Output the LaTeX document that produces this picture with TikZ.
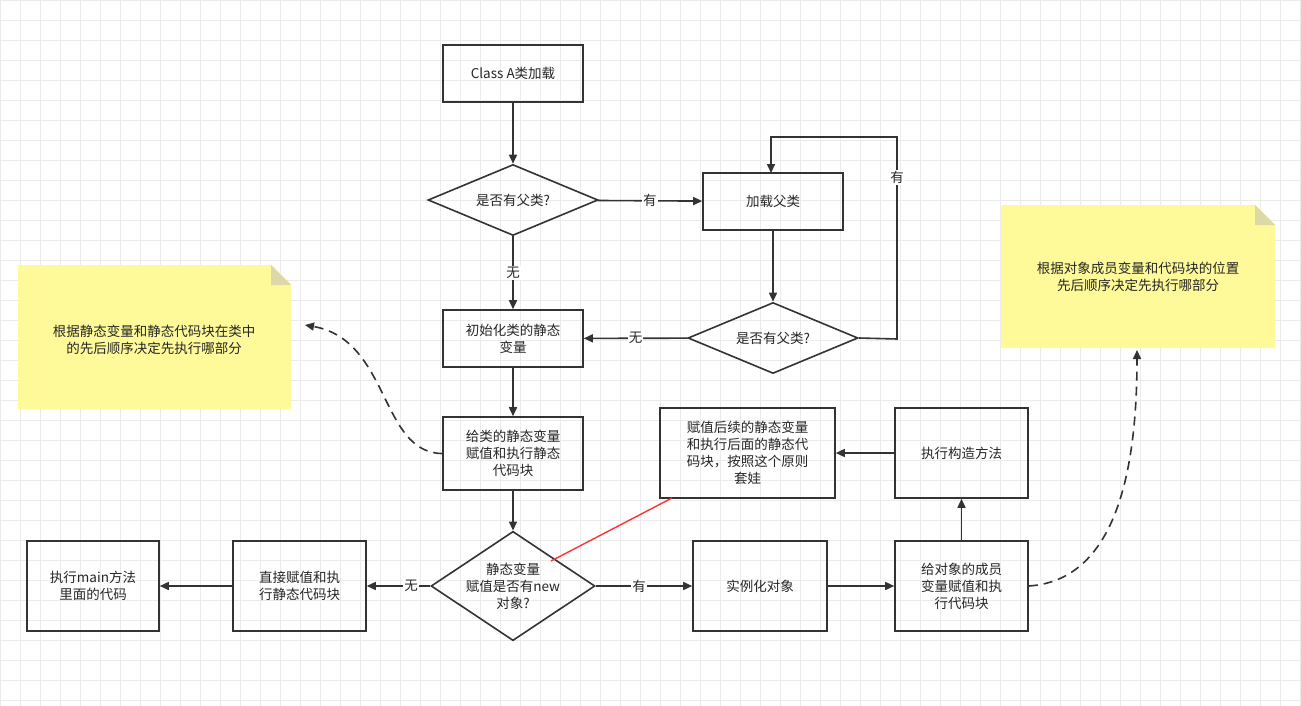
\documentclass[tikz,border=0pt]{standalone}
\usepackage{fontspec}
\setmainfont{Noto Sans CJK SC}
\usetikzlibrary{shapes.geometric,arrows.meta}
\begin{document}
\begin{tikzpicture}[x=1pt,y=-1pt,
  every node/.style={font=\fontsize{13.5}{17}\selectfont, text=black!85, align=center},
  box/.style={draw=black!80, line width=1.6pt, minimum width=#1, inner sep=2pt},
  dia/.style={draw=black!80, line width=1.6pt, diamond, aspect=2.4, inner sep=0pt},
  arr/.style={draw=black!80, line width=1.6pt, -{Triangle[length=9pt,width=8pt]}},
  lab/.style={fill=white, inner sep=1pt},
  note/.style={fill=yellow!40!white, draw=none}]
\useasboundingbox (0,0) rectangle (1301,706);
\fill[white] (0,0) rectangle (1301,706);
\foreach \x in {0,20,...,1300} \draw[black!8, line width=0.6pt] (\x,0) -- (\x,706);
\foreach \y in {0,20,...,700} \draw[black!8, line width=0.6pt] (0,\y) -- (1301,\y);
% notes
\fill[note] (18,265) -- (271,265) -- (291,285) -- (291,409) -- (18,409) -- cycle;
\fill[yellow!60!black!40] (271,265) -- (291,285) -- (271,285) -- cycle;
\node (n1) at (154,340) {根据静态变量和静态代码块在类中\\的先后顺序决定先执行哪部分};
\fill[note] (1001,205) -- (1255,205) -- (1275,225) -- (1275,348) -- (1001,348) -- cycle;
\fill[yellow!60!black!40] (1255,205) -- (1275,225) -- (1255,225) -- cycle;
\node (n2) at (1138,277) {根据对象成员变量和代码块的位置\\先后顺序决定先执行哪部分};
\coordinate (n1p) at (305,325);
\coordinate (n2p) at (1137,350);
% nodes
\node[box=140pt, minimum height=57pt] (a) at (513,73.5) {Class A类加载};
\node[dia, minimum width=170pt, minimum height=71pt] (d1) at (513,200) {是否有父类?};
\node[box=140pt, minimum height=57pt] (p) at (773,201.5) {加载父类};
\node[dia, minimum width=170pt, minimum height=71pt] (d2) at (773,338) {是否有父类?};
\node[box=140pt, minimum height=57pt] (i) at (513,338.5) {初始化类的静态\\变量};
\node[box=140pt, minimum height=73pt] (g) at (513,453.5) {给类的静态变量\\赋值和执行静态\\代码块};
\node[dia, minimum width=150pt, minimum height=99pt, aspect=1.5] (d3) at (513,586) {静态变量\\赋值是否有new\\对象?};
\node[box=133pt, minimum height=90pt] (z) at (299.5,586) {直接赋值和执\\行静态代码块};
\node[box=132pt, minimum height=90pt] (m) at (93,586) {执行main方法\\里面的代码};
\node[box=134pt, minimum height=90pt] (s) at (760,586) {实例化对象};
\node[box=133pt, minimum height=90pt] (o) at (961.5,586) {给对象的成员\\变量赋值和执\\行代码块};
\node[box=133pt, minimum height=90pt] (c) at (961.5,453) {执行构造方法};
\node[box=175pt, minimum height=90pt] (h) at (747.5,453) {赋值后续的静态变量\\和执行后面的静态代\\码块，按照这个原则\\套娃};
% edges
\draw[arr] (a) -- (d1);
\draw[arr] (d1) -- node[lab]{有} (p);
\draw[arr] (p.south) -- (d2.north);
\draw[arr] (d2.east) -- (897,339) -- node[lab, pos=0.8]{有} (897,137) -- (771,137) -- (771,173);
\draw[arr] (d2) -- node[lab]{无} (i);
\draw[arr] (d1) -- node[lab]{无} (i);
\draw[arr] (i) -- (g);
\draw[arr] (g) -- (d3);
\draw[arr] (d3) -- node[lab, pos=0.3]{无} (z);
\draw[arr] (z) -- (m);
\draw[arr] (d3) -- node[lab, pos=0.45]{有} (s);
\draw[arr] (s) -- (o);
\draw[arr] (o) -- (c);
\draw[arr] (c) -- (h);
\draw[red!80, line width=1.4pt] (551,561) -- (672,498);
\draw[arr, dashed, dash pattern=on 9pt off 6pt] (g.west) .. controls (380,453) and (390,340) .. (n1p);
\draw[arr, dashed, dash pattern=on 9pt off 6pt] (o.east) .. controls (1120,580) and (1137,460) .. (n2p);
\end{tikzpicture}
\end{document}
